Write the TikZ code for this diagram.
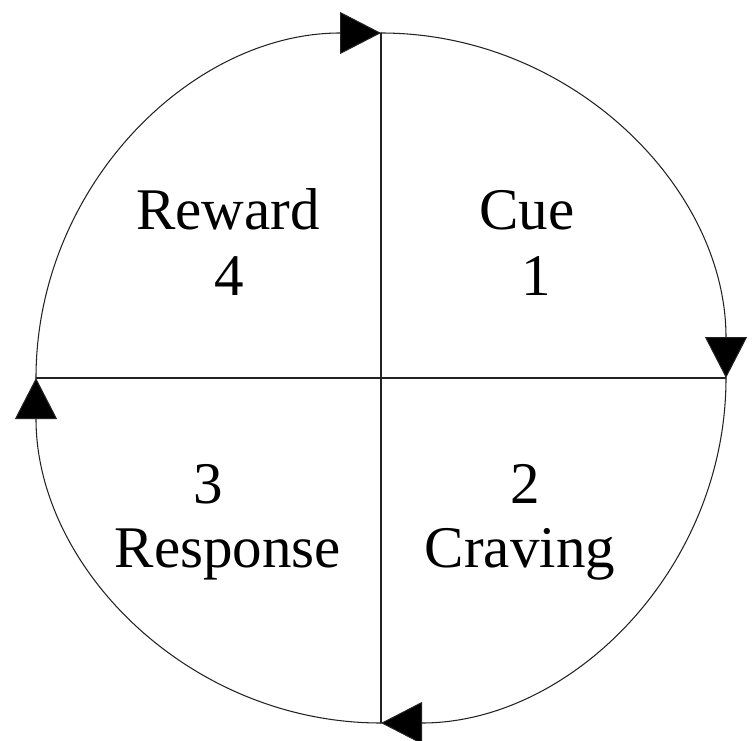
\documentclass[tikz,border=0pt]{standalone}
\usepackage{fontspec}
\setmainfont{Liberation Serif}
\usepackage{tikz}
\usetikzlibrary{arrows.meta,positioning,calc}
\definecolor{ink}{HTML}{000000}
\definecolor{rule}{HTML}{222222}
\tikzset{
    every picture/.style={line cap=round,line join=round},
    ringarc/.style={draw=rule,line width=0.75pt,
      -{Triangle[length=10.25mm,width=10.5mm,fill=ink]}},
    splitline/.style={draw=rule,line width=0.75pt},
    stagetext/.style={anchor=base,inner sep=0pt,text=ink,
      font=\fontsize{42}{50}\selectfont}
}
\begin{document}
\begin{tikzpicture}
  \useasboundingbox (-9.525,-9.05) rectangle (9.275,9.45);
  \def\rad{8.625}
  \coordinate (ctr) at (0,0);
  \coordinate (top) at (90:\rad);
  \coordinate (rgt) at (0:\rad);
  \coordinate (bot) at (-90:\rad);
  \coordinate (lft) at (180:\rad);
  % the loop, clockwise
  \draw[ringarc] (lft) arc[start angle=180,end angle=90,radius=\rad];
  \draw[ringarc] (top) arc[start angle=90,end angle=0,radius=\rad];
  \draw[ringarc] (rgt) arc[start angle=0,end angle=-90,radius=\rad];
  \draw[ringarc] (bot) arc[start angle=-90,end angle=-180,radius=\rad];
  \draw[splitline] (top)--(bot);
  \draw[splitline] (lft)--(rgt);
  % quadrant labels
  \node[stagetext] (cue) at (3.65,3.725) {Cue};
  \node[stagetext] (cuenum) at (3.875,2.075) {1};
  \node[stagetext] (crav) at (3.475,-4.725) {Craving};
  \node[stagetext] (cravnum) at (3.6,-3.125) {2};
  \node[stagetext] (resp) at (-3.825,-4.725) {Response};
  \node[stagetext] (respnum) at (-4.325,-3.125) {3};
  \node[stagetext] (rew) at (-3.825,3.725) {Reward};
  \node[stagetext] (rewnum) at (-3.79,2.075) {4};
\end{tikzpicture}
\end{document}
